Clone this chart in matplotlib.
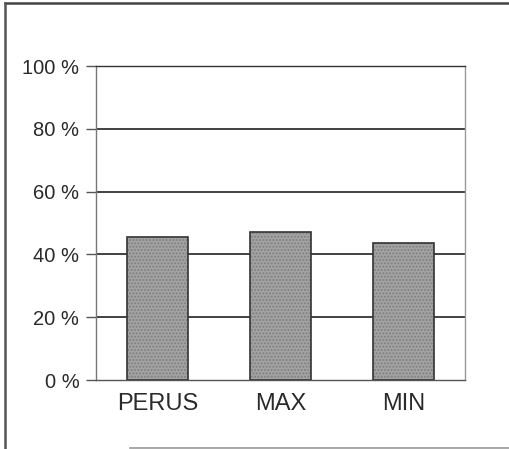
import matplotlib.pyplot as plt
from matplotlib.lines import Line2D

plt.rcParams['font.family'] = ['Liberation Sans', 'DejaVu Sans']

categories = ['PERUS', 'MAX', 'MIN']
values = [45.5, 47.1, 43.6]
yticks = [0, 20, 40, 60, 80, 100]

fig = plt.figure(figsize=(5.1, 4.49), dpi=100)
ax = fig.add_axes([96/510, 1 - 380/449, 369/510, 314/449])

# frame lines: top, left and a faint bottom edge
W, H = 510, 449
fig.lines.append(Line2D([5/W, 1], [1 - 3/H, 1 - 3/H], transform=fig.transFigure,
                        color='#444444', lw=1.8))
fig.lines.append(Line2D([5/W, 5/W], [0, 1 - 3/H], transform=fig.transFigure,
                        color='#555555', lw=1.8))
fig.lines.append(Line2D([130/W, 1], [1.5/H, 1.5/H], transform=fig.transFigure,
                        color='#999999', lw=1.2))

ax.set_axisbelow(True)
for v in yticks[1:]:
    ax.axhline(v, color='#333333', lw=1.3, zorder=0)

x = range(len(categories))
ax.bar(x, values, width=0.5, color='#a3a3a3', edgecolor='#333333', lw=1.2,
       hatch='.....', zorder=2)
for b in ax.patches:
    b._hatch_color = (0.5, 0.5, 0.5, 1)

ax.set_xlim(-0.5, 2.5)
ax.set_ylim(0, 100)
ax.set_yticks(yticks)
ax.set_yticklabels([f'{v} %' for v in yticks], fontsize=14.5)
ax.set_xticks(list(x))
ax.set_xticklabels(categories, fontsize=17)
ax.tick_params(axis='y', length=7, width=1, color='#555555', pad=5)
ax.tick_params(axis='x', length=0, pad=9)
for lbl in ax.get_xticklabels() + ax.get_yticklabels():
    lbl.set_color('#2a2a2a')

ax.spines['left'].set_color('#777777')
ax.spines['right'].set_color('#999999')
ax.spines['top'].set_color('#333333')
ax.spines['bottom'].set_color('#555555')
for s in ax.spines.values():
    s.set_linewidth(1.0)

fig.savefig('out.png', dpi=100)
